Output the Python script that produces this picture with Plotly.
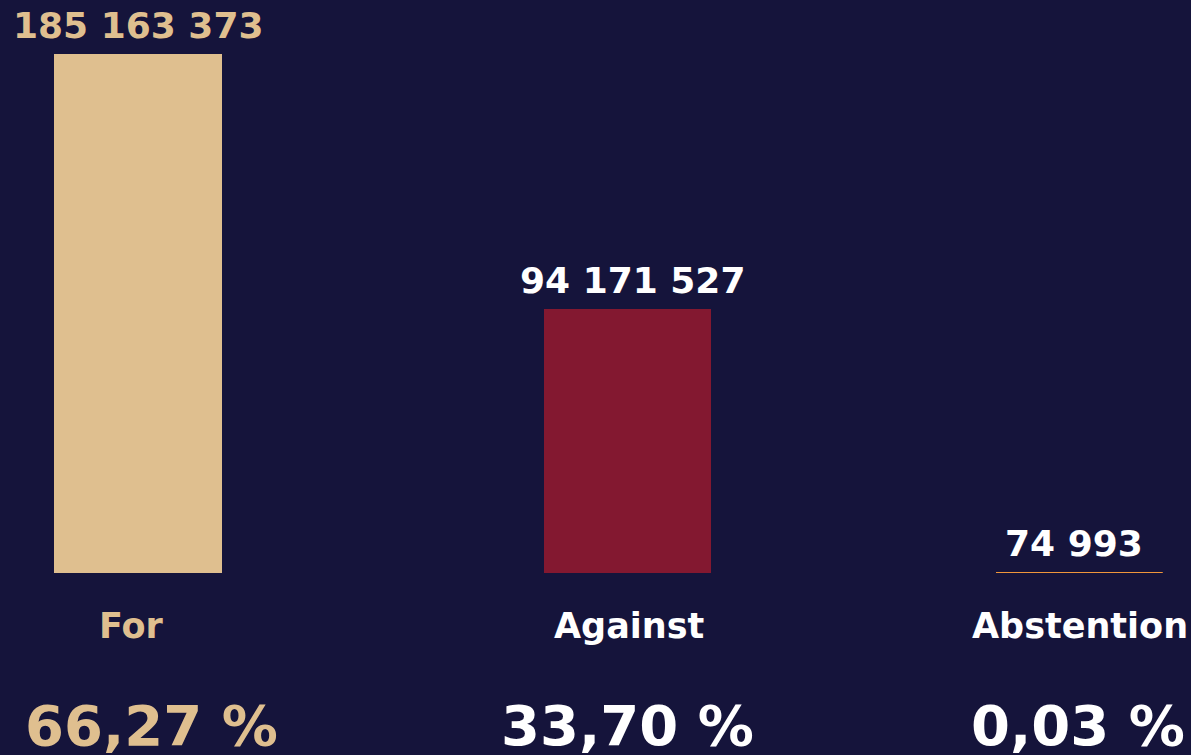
import plotly.graph_objects as go

categories = ["For", "Against", "Abstention"]
votes = [185163373, 94171527, 74993]
vote_labels = ["185 163 373", "94 171 527", "74 993"]
percent_labels = ["66,27 %", "33,70 %", "0,03 %"]

BG = "#15143b"
bar_colors = ["#dfbf8f", "#831830", "#f0963a"]
text_colors = ["#dfbf8f", "#ffffff", "#ffffff"]

W, H = 1191, 755
# pixel layout of each bar column (left, right)
cols = [(54, 222), (544, 711), (996, 1163)]
val_xshift = [0, 5, -6]
cat_xshift = [-7, 1, 0]
pct_xshift = [13, 0, -2]
base_px = 573
top_px = 54
scale = (base_px - top_px) / max(votes)
y_top = base_px / scale
y_bot = -(H - base_px) / scale

fig = go.Figure()
font = "DejaVu Sans"
for i, (cat, v) in enumerate(zip(categories, votes)):
    xa = "x" if i == 0 else f"x{i+1}"
    fig.add_trace(go.Bar(
        x=[cat], y=[v], width=[1], xaxis=xa, yaxis="y",
        marker=dict(color=bar_colors[i],
                    line=dict(color=bar_colors[i], width=1 if i == 2 else 0)),
        showlegend=False, hoverinfo="skip",
    ))
    fig.add_annotation(x=cat, y=v, xref=xa, yref="y", text=f"<b>{vote_labels[i]}</b>",
                       showarrow=False, yanchor="middle", yshift=29, xshift=val_xshift[i],
                       font=dict(family=font, size=36, color=text_colors[i]))
    fig.add_annotation(x=cat, y=0, xref=xa, yref="y", text=f"<b>{cat}</b>",
                       showarrow=False, yanchor="middle", yshift=-53, xshift=cat_xshift[i],
                       font=dict(family=font, size=35, color=text_colors[i]))
    fig.add_annotation(x=cat, y=0, xref=xa, yref="y", text=f"<b>{percent_labels[i]}</b>",
                       showarrow=False, yanchor="middle", yshift=-152, xshift=pct_xshift[i],
                       font=dict(family=font, size=56, color=text_colors[i]))

layout = dict(
    width=W, height=H,
    margin=dict(l=0, r=0, t=0, b=0),
    paper_bgcolor=BG, plot_bgcolor=BG,
    bargap=0,
    yaxis=dict(range=[y_bot, y_top], visible=False, fixedrange=True),
)
for i, (l, r) in enumerate(cols):
    key = "xaxis" if i == 0 else f"xaxis{i+1}"
    layout[key] = dict(domain=[l / W, r / W], visible=False, range=[-0.5, 0.5],
                       anchor="y", fixedrange=True)
fig.update_layout(**layout)
fig.write_html("out.html", config={"displayModeBar": False},
               post_script="document.body.style.margin='0';document.body.style.overflow='hidden';document.body.style.background='" + BG + "';")
